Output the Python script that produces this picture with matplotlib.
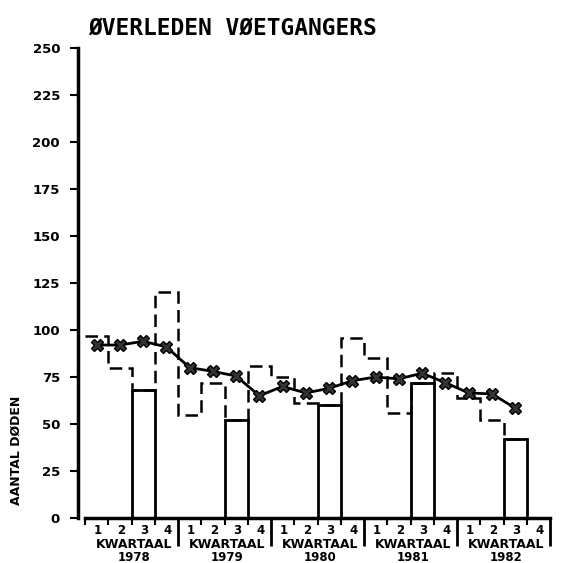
import matplotlib
matplotlib.use("Agg")
import matplotlib.pyplot as plt
import numpy as np

# Data
years = ["1978", "1979", "1980", "1981", "1982"]
quarters = ["1", "2", "3", "4"]
# quarterly deaths (dashed step line), 1978 Q1 .. 1982 Q3
quarterly = [97, 80, 68, 120,
             55, 72, 52, 81,
             75, 61, 60, 96,
             85, 56, 72, 77,
             64, 52, 42]
# third-quarter values (solid bars)
q3_values = [68, 52, 60, 72, 42]
# moving average (line with stars)
moving_avg = [92, 92, 94, 91,
              80, 78, 75.5, 65,
              70, 66.5, 69, 73,
              75, 74, 77, 72,
              66.5, 66, 58.5]
yticks = [0, 25, 50, 75, 100, 125, 150, 175, 200, 225, 250]

W, H = 566, 563
fig = plt.figure(figsize=(W / 100, H / 100), dpi=100)
ax = fig.add_axes([85 / W, 1 - 518 / H, 465 / W, 470 / H])

nq = len(years) * 4
ax.set_xlim(0, nq)
ax.set_ylim(0, 250)

# dashed step line
edges = np.arange(len(quarterly) + 1)
ax.stairs(quarterly, edges, baseline=None, color="black", lw=1.8,
          linestyle=(0, (5, 2.5)))

# solid Q3 bars
q3_pos = [i * 4 + 2 for i in range(len(years))]
ax.bar(q3_pos, q3_values, width=1, align="edge", fill=False,
       edgecolor="black", linewidth=2)

# moving average with star markers
centers = np.arange(len(moving_avg)) + 0.5
ax.plot(centers, moving_avg, color="black", lw=2, marker="X",
        markersize=8, markerfacecolor="#333333", markeredgecolor="black",
        markeredgewidth=1)

# spines
for s in ["top", "right"]:
    ax.spines[s].set_visible(False)
ax.spines["left"].set_position(("outward", 5))
ax.spines["left"].set_linewidth(2.5)
ax.spines["bottom"].set_linewidth(2.5)

ax.set_yticks(yticks)
ax.set_yticklabels([str(v) for v in yticks], fontsize=9.5, fontweight="bold",
                   family="DejaVu Sans")
ax.tick_params(axis="y", length=6, width=1.5, pad=7)

# x ticks: long at year boundaries, short at quarter boundaries
ax.set_xticks([i * 4 for i in range(1, len(years) + 1)])
ax.set_xticklabels([])
ax.set_xticks([q for q in range(nq) if q % 4 != 0 or q == 0], minor=True)
ax.tick_params(axis="x", which="major", length=20, width=2)
ax.tick_params(axis="x", which="minor", length=5, width=1.5)

for yi, yr in enumerate(years):
    for qi, ql in enumerate(quarters):
        ax.annotate(ql, xy=(yi * 4 + qi + 0.55, 0), xycoords=("data", "axes fraction"),
                    xytext=(0, -9), textcoords="offset points",
                    ha="center", va="center", fontsize=8.5, fontweight="bold")
    ax.annotate("KWARTAAL", xy=(yi * 4 + 2.1, 0), xycoords=("data", "axes fraction"),
                xytext=(0, -19), textcoords="offset points",
                ha="center", va="center", fontsize=9, fontweight="bold")
    ax.annotate(yr, xy=(yi * 4 + 2.1, 0), xycoords=("data", "axes fraction"),
                xytext=(0, -28.5), textcoords="offset points",
                ha="center", va="center", fontsize=8.5, fontweight="bold")

fig.text(88 / W, 1 - 28 / H, "ØVERLEDEN VØETGANGERS", ha="left", va="center",
         fontsize=16.5, family="DejaVu Sans Mono", fontweight="bold")
fig.text(16 / W, 1 - 450 / H, "AANTAL DØDEN", rotation=90, ha="center",
         va="center", fontsize=9, fontweight="bold")

fig.savefig("out.png", dpi=100)
